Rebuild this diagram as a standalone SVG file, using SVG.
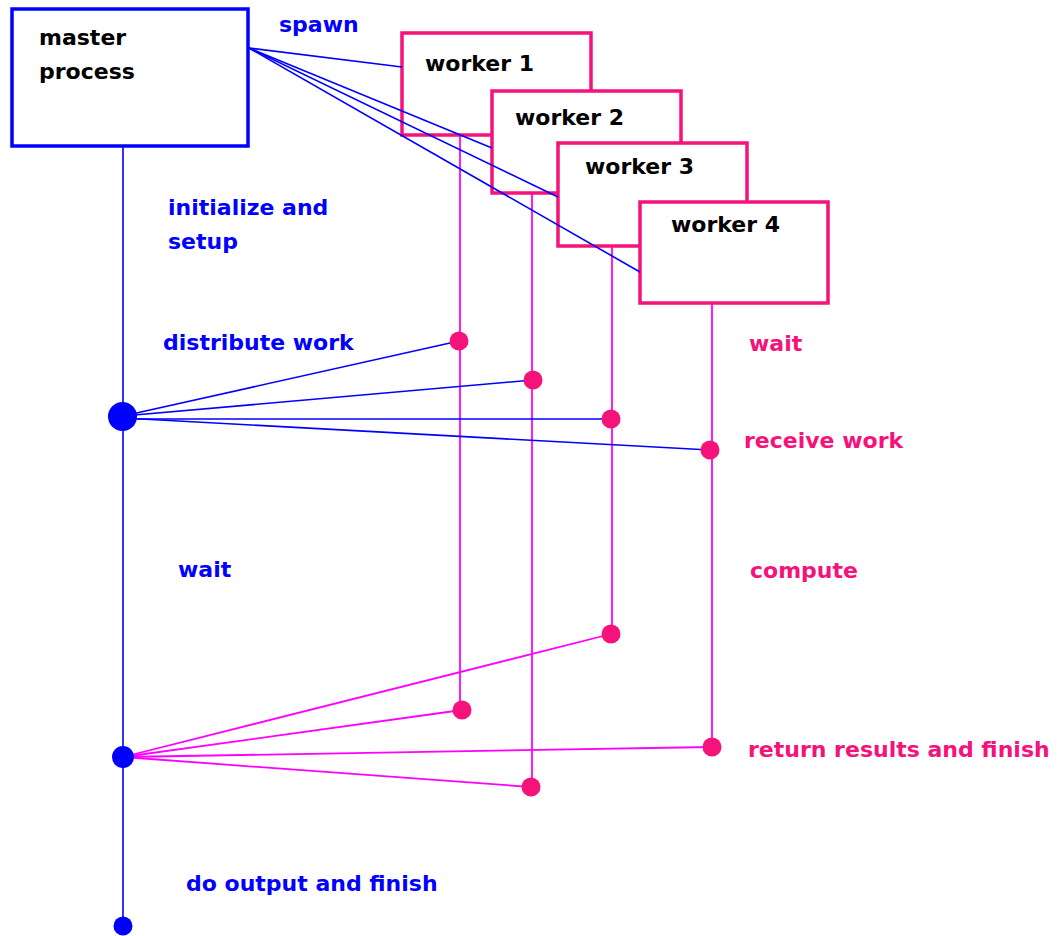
<svg xmlns="http://www.w3.org/2000/svg" width="1058" height="936" viewBox="0 0 1058 936">
<style>
text{font-family:"DejaVu Sans","Liberation Sans",sans-serif;font-weight:bold;font-size:22px}
.blk{fill:#000}
.blu{fill:#0000ff}
.pnk{fill:#f5127a}
.mbox{fill:#fff;stroke:#0000ff;stroke-width:3.5}
.wbox{fill:#fff;stroke:#f5127a;stroke-width:3.5}
.bl{stroke:#0000ff;stroke-width:1.6;fill:none}
.mg{stroke:#ff00ff;stroke-width:1.8;fill:none}
.bdot{fill:#0000ff}
.pdot{fill:#f5127a}
</style>
<rect width="1058" height="936" fill="#fff"/>
<g id="lifelines">
<line class="bl" x1="123" y1="147" x2="123" y2="926" stroke-width="2"/>
<line class="mg" x1="460" y1="135" x2="460" y2="710"/>
<line class="mg" x1="532" y1="193" x2="532" y2="787"/>
<line class="mg" x1="612" y1="246" x2="612" y2="634"/>
<line class="mg" x1="712" y1="303" x2="712" y2="747"/>
</g>
<g id="master">
<rect class="mbox" x="12" y="9" width="236" height="137"/>
<text class="blk" x="39" y="45">master</text>
<text class="blk" x="39" y="79">process</text>
</g>
<g id="worker1">
<rect class="wbox" x="402" y="33" width="189" height="102"/>
<text class="blk" x="425" y="71">worker 1</text>
</g>
<g id="worker2">
<rect class="wbox" x="492" y="91" width="189" height="102"/>
<text class="blk" x="515" y="125">worker 2</text>
</g>
<g id="worker3">
<rect class="wbox" x="558" y="143" width="189" height="103"/>
<text class="blk" x="585" y="174">worker 3</text>
</g>
<g id="worker4">
<rect class="wbox" x="640" y="202" width="188" height="101"/>
<text class="blk" x="671" y="232">worker 4</text>
</g>
<g id="connectors">
<line class="bl" x1="249" y1="48" x2="402" y2="67"/>
<line class="bl" x1="249" y1="48" x2="492" y2="148"/>
<line class="bl" x1="249" y1="48" x2="558" y2="197"/>
<line class="bl" x1="249" y1="48" x2="640" y2="272"/>
<line class="bl" x1="123" y1="416" x2="459" y2="341"/>
<line class="bl" x1="123" y1="416" x2="533" y2="380"/>
<line class="bl" x1="123" y1="419" x2="611" y2="419"/>
<line class="bl" x1="123" y1="418" x2="710" y2="450"/>
<line class="mg" x1="123" y1="757" x2="611" y2="634"/>
<line class="mg" x1="123" y1="757" x2="462" y2="710"/>
<line class="mg" x1="123" y1="757" x2="712" y2="747"/>
<line class="mg" x1="123" y1="757" x2="531" y2="787"/>
</g>
<g id="dots">
<circle class="bdot" cx="122.5" cy="416.5" r="14.5"/>
<circle class="bdot" cx="123" cy="757" r="11"/>
<circle class="bdot" cx="123" cy="926" r="9.5"/>
<circle class="pdot" cx="459" cy="341" r="9.5"/>
<circle class="pdot" cx="533" cy="380" r="9.5"/>
<circle class="pdot" cx="611" cy="419" r="9.5"/>
<circle class="pdot" cx="710" cy="450" r="9.5"/>
<circle class="pdot" cx="611" cy="634" r="9.5"/>
<circle class="pdot" cx="462" cy="710" r="9.5"/>
<circle class="pdot" cx="712" cy="747" r="9.5"/>
<circle class="pdot" cx="531" cy="787" r="9.5"/>
</g>
<g id="labels">
<text class="blu" x="279" y="32">spawn</text>
<text class="blu" x="168" y="215">initialize and</text>
<text class="blu" x="168" y="249">setup</text>
<text class="blu" x="163" y="350">distribute work</text>
<text class="blu" x="178" y="577">wait</text>
<text class="blu" x="186" y="891">do output and finish</text>
<text class="pnk" x="749" y="351">wait</text>
<text class="pnk" x="744" y="448">receive work</text>
<text class="pnk" x="750" y="578">compute</text>
<text class="pnk" x="748" y="757">return results and finish</text>
</g>
</svg>
